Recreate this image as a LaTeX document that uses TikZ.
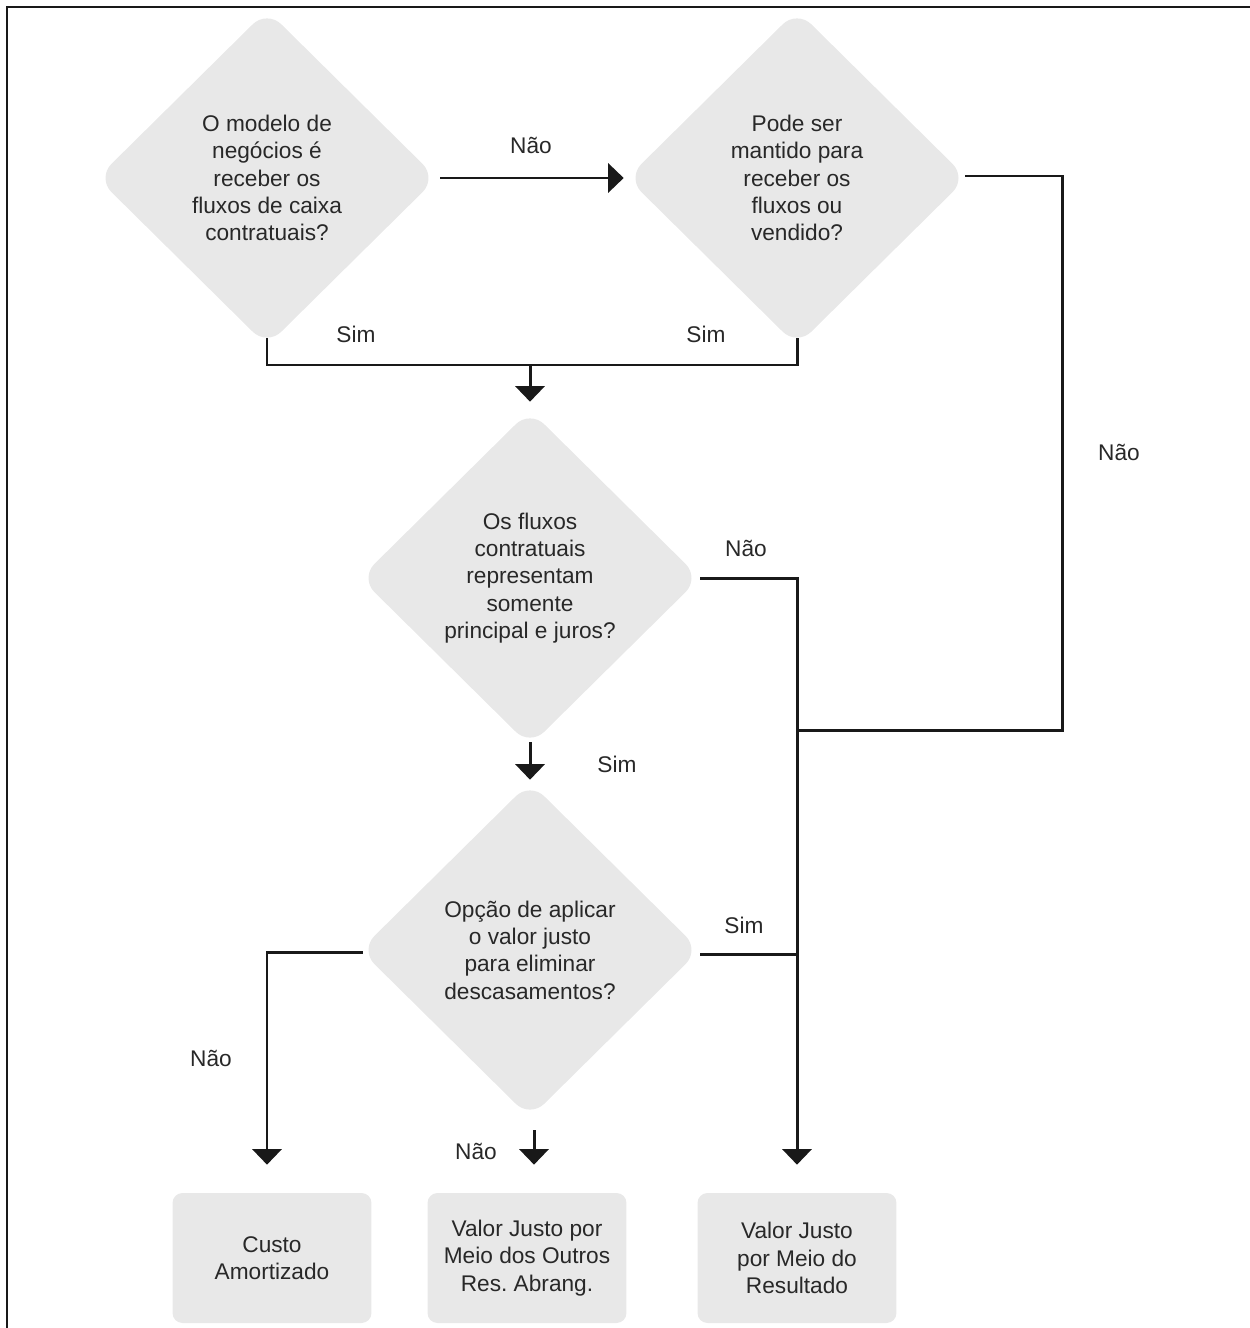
\documentclass[tikz,border=0pt]{standalone}
\usepackage{fontspec}
\setmainfont{Liberation Sans}
\usetikzlibrary{shapes.geometric,arrows.meta,calc}
\definecolor{boxfill}{RGB}{232,232,232}
\definecolor{txt}{RGB}{40,40,40}
\definecolor{ln}{RGB}{25,25,25}
\frenchspacing
\begin{document}
\begin{tikzpicture}[x=0.02cm,y=-0.02cm,
  every node/.style={text=txt, font=\fontsize{12.9}{15.6}\selectfont},
  dec/.style={diamond, fill=boxfill, rounded corners=0.4cm, inner sep=0pt,
    minimum width=6.8cm, minimum height=6.72cm, align=center},
  res/.style={rectangle, fill=boxfill, rounded corners=0.2cm, inner sep=0pt,
    minimum width=3.98cm, minimum height=2.6cm, align=center},
  lbl/.style={inner sep=1pt},
  conn/.style={line width=1.7pt, draw=ln},
  arr/.style={conn, -{Triangle[width=16.5pt,length=8.8pt]}}]
\useasboundingbox (0,0) rectangle (1250,1328);
\draw[line width=1.15pt, draw=ln] (1250,7) -- (7,7) -- (7,1328);

\node[dec] (d1) at (267,178) {O modelo de\\negócios é\\receber os\\fluxos de caixa\\contratuais?};
\node[dec] (d2) at (797,178) {Pode ser\\mantido para\\receber os\\fluxos ou\\vendido?};
\node[dec] (d3) at (530,578) {Os fluxos\\contratuais\\representam\\somente\\principal e juros?};
\node[dec] (d4) at (530,950) {Opção de aplicar\\o valor justo\\para eliminar\\descasamentos?};

\node[res] (b1) at (272,1258) {Custo\\Amortizado};
\node[res] (b2) at (527,1258) {Valor Justo por\\Meio dos Outros\\Res. Abrang.};
\node[res] (b3) at (797,1258) {Valor Justo\\por Meio do\\Resultado};

% connectors
\draw[arr] ($(d1.east)+(3,0)$) -- ($(d2.west)+(-3,0)$);
\coordinate (m1) at (530,365);
\draw[conn] ($(d1.south)+(0,-8)$) |- (m1) -| ($(d2.south)+(0,-8)$);
\draw[arr] (m1) -- ($(d3.north)+(0,-8)$);

\coordinate (r1) at (1062,176);
\coordinate (j1) at (797,730);
\draw[conn] ($(d2.east)+(-2,-2)$) -- (r1) |- (j1);

\coordinate (v1) at (797,578);
\draw[arr] (d3.east) -- (v1) -- ($(b3.north)+(0,-28)$);
\draw[conn] ($(d4.east)+(0,4)$) -- ($(d4.east -| v1)+(0,4)$);

\draw[arr] ($(d4.west)+(3,2)$) -| ($(b1.north)+(-5,-28)$);
\draw[arr] ($(d3.south)+(0,-4)$) -- ($(d4.north)+(0,-2)$);
\draw[arr] ($(d4.south)+(4,12)$) -- ($(b2.north)+(7,-28)$);

% labels
\node[lbl] (l1) at (531,145) {Não};
\node[lbl] (l2) at (356,334) {Sim};
\node[lbl] (l3) at (706,334) {Sim};
\node[lbl] (l4) at (1119,452) {Não};
\node[lbl] (l5) at (746,548) {Não};
\node[lbl] (l6) at (617,764) {Sim};
\node[lbl] (l7) at (744,925) {Sim};
\node[lbl] (l8) at (211,1058) {Não};
\node[lbl] (l9) at (476,1151) {Não};
\end{tikzpicture}
\end{document}
